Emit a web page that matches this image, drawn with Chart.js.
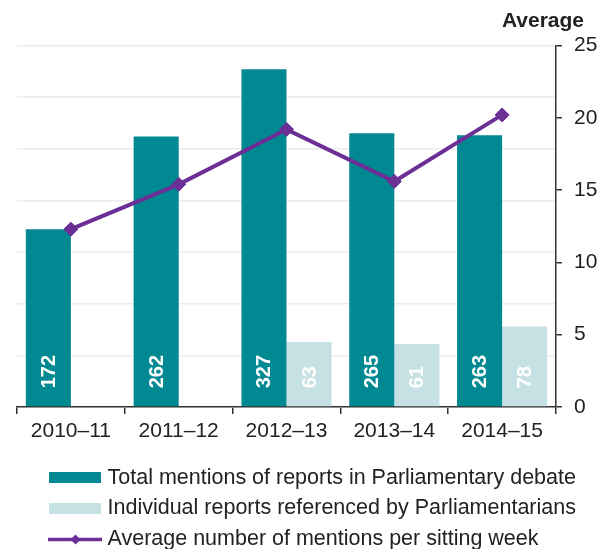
<!DOCTYPE html>
<html>
<head>
<meta charset="utf-8">
<title>Parliamentary mentions of reports</title>
<script src="https://cdn.jsdelivr.net/npm/chart.js@4/dist/chart.umd.min.js"></script>
<style>
  html, body { margin: 0; padding: 0; background: #ffffff; }
  canvas { display: block; }
</style>
</head>
<body>
<canvas id="chart" width="608" height="549"></canvas>
<script>
// Financial years
const years = ['2010–11', '2011–12', '2012–13', '2013–14', '2014–15'];

// Total mentions of reports in Parliamentary debate
const totalMentions = [172, 262, 327, 265, 263];

// Individual reports referenced by Parliamentarians (not recorded before 2012–13)
const individualReports = [null, null, 63, 61, 78];

// Average number of mentions per sitting week
const averagePerWeek = [12.3, 15.4, 19.2, 15.6, 20.2];

// Right-hand axis ticks
const averageTicks = [0, 5, 10, 15, 20, 25];

const seriesNames = [
  'Total mentions of reports in Parliamentary debate',
  'Individual reports referenced by Parliamentarians',
  'Average number of mentions per sitting week'
];

const TEAL = '#008992';
const LIGHT = '#c6e1e4';
const PURPLE = '#6b2f96';
const INK = '#222222';
const FONT = '"Liberation Sans", Arial, sans-serif';

// White, rotated value labels sitting near the base of each bar
const barValueLabels = {
  id: 'barValueLabels',
  afterDatasetsDraw(chart) {
    const ctx = chart.ctx;
    ctx.save();
    ctx.fillStyle = '#ffffff';
    ctx.font = 'bold 20px ' + FONT;
    ctx.textAlign = 'left';
    ctx.textBaseline = 'middle';
    [0, 1].forEach(di => {
      const meta = chart.getDatasetMeta(di);
      const data = chart.data.datasets[di].data;
      meta.data.forEach((bar, i) => {
        if (data[i] == null) return;
        ctx.save();
        ctx.translate(bar.x + 1, bar.base - 18);
        ctx.rotate(-Math.PI / 2);
        ctx.fillText(String(data[i]), 0, 0);
        ctx.restore();
      });
    });
    ctx.restore();
  }
};

// Axis heading above the right-hand scale, and the stacked legend below the plot
const headingAndLegend = {
  id: 'headingAndLegend',
  afterDraw(chart) {
    const ctx = chart.ctx;
    const ds = chart.data.datasets;
    ctx.save();

    ctx.fillStyle = INK;
    ctx.font = 'bold 21px ' + FONT;
    ctx.textAlign = 'right';
    ctx.textBaseline = 'alphabetic';
    ctx.fillText('Average', 584, 27);

    const baselines = [483.5, 514, 545];

    // bar swatches
    ctx.fillStyle = ds[0].backgroundColor;
    ctx.fillRect(49, 472, 52, 11);
    ctx.fillStyle = ds[1].backgroundColor;
    ctx.fillRect(49, 503, 52, 11);

    // line swatch with diamond marker
    const ly = 539.5;
    ctx.strokeStyle = ds[2].borderColor;
    ctx.lineWidth = 3.5;
    ctx.beginPath();
    ctx.moveTo(48, ly);
    ctx.lineTo(102, ly);
    ctx.stroke();
    ctx.fillStyle = ds[2].borderColor;
    ctx.beginPath();
    ctx.moveTo(75.5 - 5, ly);
    ctx.lineTo(75.5, ly - 5);
    ctx.lineTo(75.5 + 5, ly);
    ctx.lineTo(75.5, ly + 5);
    ctx.closePath();
    ctx.fill();

    ctx.fillStyle = INK;
    ctx.font = '21.5px ' + FONT;
    ctx.textAlign = 'left';
    baselines.forEach((y, i) => ctx.fillText(seriesNames[i], 107.5, y));
    ctx.restore();
  }
};

new Chart(document.getElementById('chart'), {
  data: {
    labels: years,
    datasets: [
      {
        type: 'bar',
        label: seriesNames[0],
        data: totalMentions,
        backgroundColor: TEAL,
        yAxisID: 'y',
        order: 1,
        categoryPercentage: 0.836,
        barPercentage: 1.0
      },
      {
        type: 'bar',
        label: seriesNames[1],
        data: individualReports,
        backgroundColor: LIGHT,
        yAxisID: 'y',
        order: 1,
        categoryPercentage: 0.836,
        barPercentage: 1.0
      },
      {
        type: 'line',
        label: seriesNames[2],
        data: averagePerWeek,
        borderColor: PURPLE,
        backgroundColor: PURPLE,
        borderWidth: 4,
        pointStyle: 'rectRot',
        pointRadius: 7,
        pointBackgroundColor: PURPLE,
        pointBorderColor: PURPLE,
        pointBorderWidth: 1,
        tension: 0,
        yAxisID: 'y1',
        order: 0
      }
    ]
  },
  options: {
    responsive: false,
    devicePixelRatio: 1,
    animation: false,
    layout: { padding: { top: 45.5, bottom: 102, left: 0, right: 0 } },
    plugins: {
      legend: { display: false },
      tooltip: { enabled: false },
      title: { display: false }
    },
    scales: {
      x: {
        position: 'bottom',
        border: { display: true, color: '#333333', width: 1.5 },
        grid: {
          drawOnChartArea: false,
          drawTicks: true,
          tickLength: 7,
          color: '#333333',
          lineWidth: 1.5
        },
        ticks: {
          color: INK,
          font: { family: FONT, size: 21 },
          padding: 5,
          maxRotation: 0
        },
        afterFit(scale) { scale.height = 40; }
      },
      y: {
        position: 'left',
        min: 0,
        max: 350,
        border: { display: false },
        grid: {
          drawTicks: false,
          color: '#ececec',
          lineWidth: 1.5
        },
        ticks: { display: false, stepSize: 50 },
        afterFit(scale) { scale.width = 17; }
      },
      y1: {
        position: 'right',
        min: 0,
        max: 25,
        border: { display: true, color: '#333333', width: 1.5 },
        grid: {
          drawOnChartArea: false,
          drawTicks: true,
          tickLength: 6,
          color: '#333333',
          lineWidth: 1.5
        },
        ticks: {
          color: INK,
          font: { family: FONT, size: 21 },
          padding: 12,
          stepSize: 5
        },
        afterBuildTicks(scale) {
          scale.ticks = averageTicks.map(v => ({ value: v }));
        },
        afterFit(scale) { scale.width = 52; }
      }
    }
  },
  plugins: [barValueLabels, headingAndLegend]
});
</script>
</body>
</html>
